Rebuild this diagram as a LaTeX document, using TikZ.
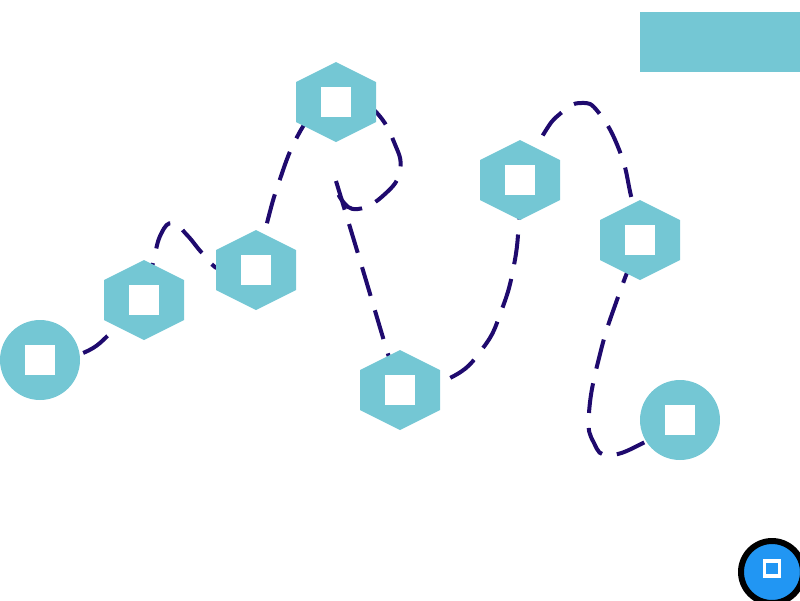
\documentclass[tikz,border=0pt]{standalone}
\usetikzlibrary{backgrounds}
\definecolor{tealfill}{HTML}{74C7D4}
\definecolor{darkline}{HTML}{1F0A6E}
\definecolor{bluefill}{HTML}{2196F3}
\tikzset{
  x=1pt,y=-1pt,
  sq/.style={fill=white,inner sep=0pt,minimum size=30pt,draw=none},
  disc/.style={circle,fill=tealfill,inner sep=0pt,minimum size=80pt},
  edge/.style={draw=darkline,line width=4pt,dash pattern=on 30pt off 15pt},
  smoothed/.style={smooth,tension=0.8}
}
\newcommand{\hexat}[3]{%
  \fill[tealfill] (#2,#3) ++(0,-40) -- ++(40,20) -- ++(0,40) -- ++(-40,20) -- ++(-40,-20) -- ++(0,-40) -- cycle;
  \node[sq] (#1) at (#2,#3) {};}
\newcommand{\circat}[3]{%
  \node[disc] (#1d) at (#2,#3) {};
  \node[sq] (#1) at (#2,#3) {};}
\begin{document}
\begin{tikzpicture}
\useasboundingbox (0,0) rectangle (800,600);
\node[fill=tealfill,inner sep=0pt,minimum width=160pt,minimum height=60pt] (bar) at (720,42) {};
\circat{a}{40}{360}
\hexat{b}{144}{300}
\hexat{c}{256}{270}
\hexat{d}{336}{102}
\hexat{e}{400}{390}
\hexat{f}{520}{180}
\hexat{g}{640}{240}
\circat{h}{680}{420}
\node[circle,fill=bluefill,draw=black,line width=6pt,inner sep=0pt,minimum size=62pt] (btn) at (772,572) {};
\node[draw=white,line width=3.7pt,inner sep=0pt,minimum size=15pt] (btnsq) at (772,568.7) {};
\coordinate (turn) at (336,181);
\begin{scope}[on background layer]
\draw[edge,dash phase=1pt] plot[smoothed] coordinates {(a.center) (83,353) (115,329) (b.center)};
\draw[edge,dash phase=37pt] plot[smoothed] coordinates {(b.center) (153,263) (161,234) (173,223) (187,235) (204,255) (222,270) (c.center)};
\draw[edge,dash phase=42pt] plot[smoothed] coordinates {(c.center) (267,223) (279,182) (296,139) (315,113) (d.center)};
\draw[edge,dash phase=15pt] plot[smoothed] coordinates {(d.center) (356,100) (377,113) (394,142) (400,170) (385,194) (358,209) (341,199) (turn)};
\draw[edge,dash phase=0pt] plot[smoothed] coordinates {(turn) (362,267) (388,354) (e.center)};
\draw[edge,dash phase=38pt] plot[smoothed] coordinates {(e.center) (450,378) (483,348) (502,309) (514,265) (519,220) (f.center)};
\draw[edge,dash phase=40pt] plot[smoothed] coordinates {(f.center) (543,135) (561,113) (581,103) (599,113) (620,152) (631,196) (g.center)};
\draw[edge,dash phase=29pt] plot[smoothed] coordinates {(g.center) (618,297) (600,354) (589,413) (594,443) (610,455) (645,442) (h.center)};
\end{scope}
\end{tikzpicture}
\end{document}
